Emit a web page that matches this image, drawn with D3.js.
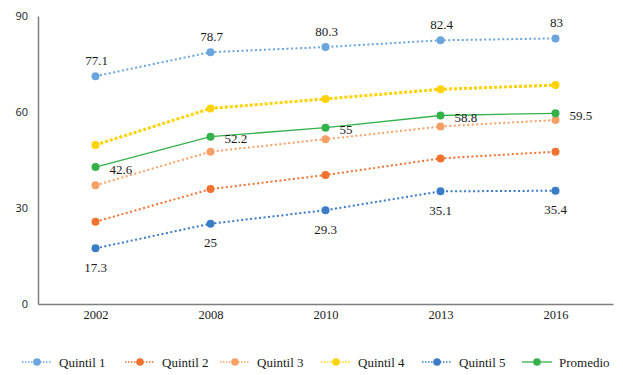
<!DOCTYPE html>
<html>
<head>
<meta charset="utf-8">
<script src="https://cdn.jsdelivr.net/npm/d3@7"></script>
<style>
  body { margin: 0; background: #fff; }
</style>
</head>
<body>
<div id="viz"></div>
<script>
// data
const years = ["2002", "2008", "2010", "2013", "2016"];
const yTicks = [0, 30, 60, 90];

const quintil1 = [71.2, 78.7, 80.3, 82.4, 83];
const quintil2 = [25.7, 35.9, 40.3, 45.5, 47.6];
const quintil3 = [37.1, 47.6, 51.5, 55.5, 57.5];
const quintil4 = [49.7, 61.1, 64.1, 67.1, 68.4];
const quintil5 = [17.4, 25.1, 29.3, 35.2, 35.4];
const promedio = [42.8, 52.3, 55.1, 58.9, 59.6];

// labels as printed on the chart
const labelsQ1 = ["77.1", "78.7", "80.3", "82.4", "83"];
const labelsQ5 = ["17.3", "25", "29.3", "35.1", "35.4"];
const labelsProm = ["42.6", "52.2", "55", "58.8", "59.5"];

const series = [
  {name: "Quintil 1", values: quintil1, color: "#6aa6dc", width: 2, dash: "2,2.5"},
  {name: "Quintil 2", values: quintil2, color: "#f0722e", width: 2, dash: "2,2.5"},
  {name: "Quintil 3", values: quintil3, color: "#f7a066", width: 2, dash: "2,2.5"},
  {name: "Quintil 4", values: quintil4, color: "#ffd200", width: 3, dash: "3,2"},
  {name: "Quintil 5", values: quintil5, color: "#3a7cc6", width: 2, dash: "2,2.5"},
  {name: "Promedio", values: promedio, color: "#33b24a", width: 1.3, dash: null}
];

const serif = "'Liberation Serif', 'DejaVu Serif', serif";
const sans = "'Open Sans', 'Noto Sans', sans-serif";

const width = 623;
const height = 375;
const margin = {left: 38, top: 16, right: 10, bottom: 71};
const g_width = width - margin.left - margin.right;
const g_height = height - margin.top - margin.bottom;

const svg = d3.select("#viz")
  .append("svg")
  .attr("width", width)
  .attr("height", height);

const g = svg.append("g")
  .attr("transform", "translate(" + margin.left + "," + margin.top + ")");

const x = d3.scalePoint().domain(years).range([0, g_width]).padding(0.5);
const y = d3.scaleLinear().domain([0, 90]).range([g_height, 0]);

// y axis
const yAxis = g.append("g")
  .call(d3.axisLeft(y).tickValues(yTicks).tickSize(0).tickPadding(10))
  .attr("font-family", sans);
yAxis.select(".domain").attr("stroke", "#7f7f7f").attr("stroke-width", 1.5);
yAxis.selectAll("text").style("font-size", "11px").attr("fill", "#1a1a1a");

// x axis
const xAxis = g.append("g")
  .attr("transform", "translate(0," + g_height + ")")
  .call(d3.axisBottom(x).tickSize(0).tickPadding(6))
  .attr("font-family", serif);
xAxis.select(".domain").attr("stroke", "#7f7f7f").attr("stroke-width", 1.5);
xAxis.selectAll("text").style("font-size", "12.5px").attr("fill", "#1a1a1a");

const line = d3.line()
  .x(function(d, i) { return x(years[i]); })
  .y(function(d) { return y(d); });

// draw lines and dots
series.forEach(function(s) {
  g.append("path")
    .datum(s.values)
    .attr("d", line)
    .attr("fill", "none")
    .attr("stroke", s.color)
    .attr("stroke-width", s.width)
    .attr("stroke-dasharray", s.dash);

  g.selectAll(null)
    .data(s.values)
    .enter()
    .append("circle")
    .attr("cx", function(d, i) { return x(years[i]); })
    .attr("cy", function(d) { return y(d); })
    .attr("r", 4)
    .attr("fill", s.color);
});

// data labels
function addLabels(labels, values, dx, dy, anchor) {
  g.selectAll(null)
    .data(labels)
    .enter()
    .append("text")
    .attr("x", function(d, i) { return x(years[i]) + dx; })
    .attr("y", function(d, i) { return y(values[i]) + dy; })
    .attr("text-anchor", anchor)
    .attr("dy", "0.35em")
    .attr("fill", "#1a1a1a")
    .style("font-family", serif)
    .style("font-size", "13px")
    .text(function(d) { return d; });
}
addLabels(labelsQ1, quintil1, 1, -16, "middle");
addLabels(labelsQ5, quintil5, 0, 19, "middle");
addLabels(labelsProm, promedio, 14, 2, "start");

// legend
const legendX = [22, 125, 220, 321, 422, 522];
const legend = svg.append("g").attr("transform", "translate(0,362)");

series.forEach(function(s, i) {
  const item = legend.append("g").attr("transform", "translate(" + legendX[i] + ",0)");
  item.append("line")
    .attr("x1", 0).attr("x2", 30)
    .attr("y1", 0).attr("y2", 0)
    .attr("stroke", s.color)
    .attr("stroke-width", s.dash ? 1.5 : 1.3)
    .attr("stroke-dasharray", s.dash ? "1.5,1.5" : null);
  item.append("circle")
    .attr("cx", 15).attr("cy", 0).attr("r", 3.8)
    .attr("fill", s.color);
  item.append("text")
    .attr("x", 37).attr("y", 0)
    .attr("dy", "0.35em")
    .attr("fill", "#1a1a1a")
    .style("font-family", serif)
    .style("font-size", "13px")
    .text(s.name);
});
</script>
</body>
</html>
